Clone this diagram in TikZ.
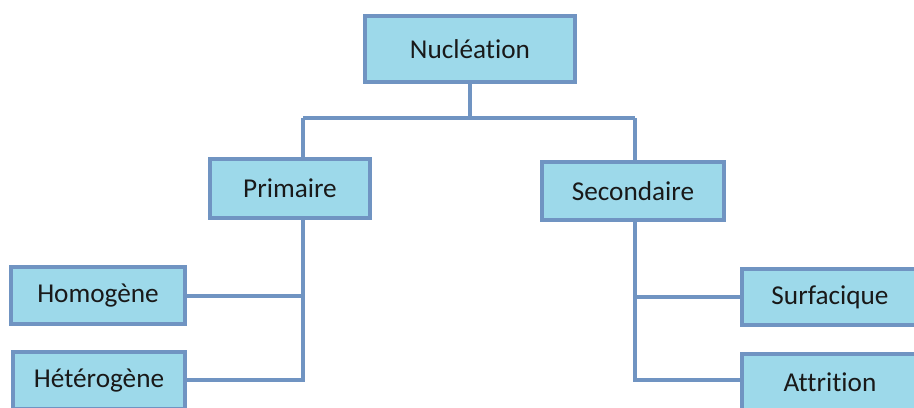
\documentclass[tikz,border=0pt]{standalone}
\usepackage{fontspec}
\setmainfont[Ligatures=NoCommon]{Carlito}
\usepackage{tikz}
\usetikzlibrary{positioning}

\definecolor{boxfill}{HTML}{9DD9EA}
\definecolor{boxline}{HTML}{7094C2}

\tikzset{
    box/.style={shape=rectangle,draw=boxline,fill=boxfill,line width=0.08cm,
        inner sep=0pt,font=\fontsize{15.5}{18}\selectfont,text=black!90},
    link/.style={draw=boxline,line width=0.08cm}
}

\begin{document}
\begin{tikzpicture}[x=0.02cm,y=0.02cm]
            \clip (0, 0) rectangle (914, 407);

            \node (Nucleation)[box,minimum width=4.2cm,minimum height=1.32cm]
                at (470, 358) {Nucléation};
            \node (Primaire)[box,minimum width=3.2cm,minimum height=1.18cm]
                at (290, 218.5) {Primaire};
            \node (Secondaire)[box,minimum width=3.64cm,minimum height=1.16cm]
                at (633, 216) {Secondaire};
            \node (Homogene)[box,minimum width=3.48cm,minimum height=1.14cm]
                at (98, 111.5) {Homogène};
            \node (Heterogene)[box,minimum width=3.44cm,minimum height=1.14cm]
                at (99, 26.5) {Hétérogène};
            \node (Surfacique)[box,minimum width=3.52cm,minimum height=1.12cm]
                at (830, 110) {Surfacique};
            \node (Attrition)[box,minimum width=3.52cm,minimum height=1.14cm]
                at (830, 24.5) {Attrition};

            % top split
            \coordinate (splitL) at (303, 289);
            \coordinate (splitR) at (635, 289);
            \coordinate (baseL) at (303, 27);
            \coordinate (baseR) at (635, 27);

            \path [link] (Nucleation.south) -- (Nucleation.south |- splitL);
            \path [link] (splitL) -- (splitR);
            \path [link] (splitL) -- (splitL |- Primaire.north);
            \path [link] (splitR) -- (splitR |- Secondaire.north);

            % left branch
            \path [link] (baseL |- Primaire.south) -- (baseL) -- (Heterogene.east |- baseL);
            \path [link] (Homogene.east) -- (Homogene.east -| baseL);

            % right branch
            \path [link] (baseR |- Secondaire.south) -- (baseR) -- (Attrition.west |- baseR);
            \path [link] (Surfacique.west) -- (Surfacique.west -| baseR);
         \end{tikzpicture}
\end{document}
